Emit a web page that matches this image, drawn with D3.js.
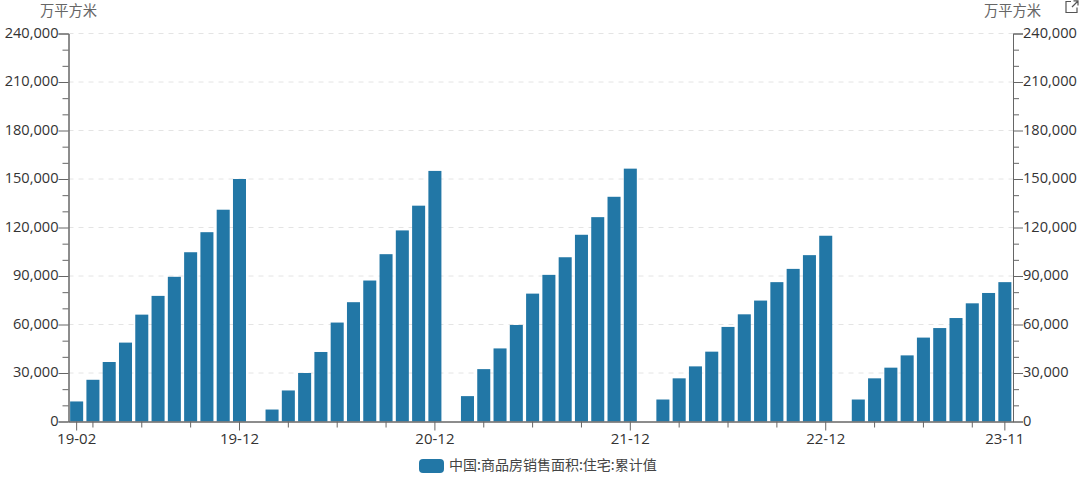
<!DOCTYPE html>
<html>
<head>
<meta charset="utf-8">
<script src="https://cdn.jsdelivr.net/npm/d3@7/dist/d3.min.js"></script>
<style>
  html, body { margin: 0; padding: 0; background: #fff; }
  svg { display: block; }
  text { font-family: "Open Sans", "Noto Sans CJK SC", sans-serif; }
  .cjk { font-family: "Noto Sans CJK SC", sans-serif; }
</style>
</head>
<body>
<div id="chart"></div>
<script>
// data
var months = [
  "19-02","19-03","19-04","19-05","19-06","19-07","19-08","19-09","19-10","19-11","19-12",
  "20-01","20-02","20-03","20-04","20-05","20-06","20-07","20-08","20-09","20-10","20-11","20-12",
  "21-01","21-02","21-03","21-04","21-05","21-06","21-07","21-08","21-09","21-10","21-11","21-12",
  "22-01","22-02","22-03","22-04","22-05","22-06","22-07","22-08","22-09","22-10","22-11","22-12",
  "23-01","23-02","23-03","23-04","23-05","23-06","23-07","23-08","23-09","23-10","23-11"
];
var salesArea = [
  12400,25800,36800,48800,66100,77700,89500,104700,117100,131000,150000,
  null,7400,19200,30000,43000,61200,73800,87200,103500,118200,133500,155000,
  null,15700,32400,45200,59700,79100,90700,101600,115500,126400,139000,156400,
  null,13600,26700,34100,43200,58500,66300,74800,86200,94400,102900,114900,
  null,13600,26700,33300,40900,51900,57800,64000,73100,79500,86200
];
var xLabels = ["19-02","19-12","20-12","21-12","22-12","23-11"];
var xMinorTicks = ["19-03","19-06","19-09","20-03","20-06","20-09","21-03","21-06","21-09",
                   "22-03","22-06","22-09","23-03","23-06","23-09"];
var yTicks = [0,30000,60000,90000,120000,150000,180000,210000,240000];
var yMinorTicks = d3.range(10000, 240000, 10000).filter(d => d % 30000 != 0);
var unitLabel = "万平方米";
var seriesName = "中国:商品房销售面积:住宅:累计值";

var width = 1080, height = 480;
var margin = {top: 33.5, right: 67, bottom: 58.5, left: 68.5};
var axisColor = "#666", labelColor = "#333", barColor = "#2277a6";

var svg = d3.select("#chart").append("svg")
    .attr("width", width)
    .attr("height", height);

var x = d3.scaleBand()
    .domain(months)
    .range([margin.left, width - margin.right])
    .paddingInner(0.2)
    .paddingOuter(0.1);

var y = d3.scaleLinear()
    .domain([0, 240000])
    .range([height - margin.bottom, margin.top]);

// grid
svg.append("g").selectAll("line")
    .data(yTicks.slice(1))
    .enter().append("line")
    .attr("x1", margin.left)
    .attr("x2", width - margin.right)
    .attr("y1", d => y(d))
    .attr("y2", d => y(d))
    .attr("stroke", "#e4e4e4")
    .attr("stroke-dasharray", "5,5");

// bars
svg.append("g").selectAll("rect")
    .data(months.map((m, i) => ({month: m, value: salesArea[i]})).filter(d => d.value != null))
    .enter().append("rect")
    .attr("x", d => x(d.month))
    .attr("y", d => y(d.value))
    .attr("width", x.bandwidth())
    .attr("height", d => y(0) - y(d.value))
    .attr("fill", barColor);

function styleAxis(g, size) {
    g.selectAll("path, line").attr("stroke", axisColor);
    g.selectAll("text").attr("fill", labelColor).style("font-size", size + "px");
}

// y axes, major and minor ticks
var fmt = d3.format(",");
svg.append("g")
    .attr("transform", `translate(${margin.left},0)`)
    .call(d3.axisLeft(y).tickValues(yTicks).tickFormat(fmt).tickSize(10).tickPadding(0))
    .call(styleAxis, 14.6)
    .selectAll("text").attr("dy", "0.26em");
svg.append("g")
    .attr("transform", `translate(${margin.left},0)`)
    .call(d3.axisLeft(y).tickValues(yMinorTicks).tickFormat("").tickSize(6).tickSizeOuter(0))
    .call(styleAxis, 14.6);
svg.append("g")
    .attr("transform", `translate(${width - margin.right},0)`)
    .call(d3.axisRight(y).tickValues(yTicks).tickFormat(fmt).tickSize(10).tickPadding(0))
    .call(styleAxis, 14.6)
    .selectAll("text").attr("dy", "0.26em");
svg.append("g")
    .attr("transform", `translate(${width - margin.right},0)`)
    .call(d3.axisRight(y).tickValues(yMinorTicks).tickFormat("").tickSize(6).tickSizeOuter(0))
    .call(styleAxis, 14.6);

// x axis
svg.append("g")
    .attr("transform", `translate(0,${height - margin.bottom})`)
    .call(d3.axisBottom(x).tickValues(xLabels).tickSize(9).tickSizeOuter(0).tickPadding(3))
    .call(styleAxis, 15);
svg.append("g")
    .attr("transform", `translate(0,${height - margin.bottom})`)
    .call(d3.axisBottom(x).tickValues(xMinorTicks).tickFormat("").tickSize(6).tickSizeOuter(0))
    .call(styleAxis, 15);

// units
[68.5, 1012.5].forEach(cx => {
    svg.append("text")
        .attr("class", "cjk")
        .attr("x", cx)
        .attr("y", 16)
        .attr("text-anchor", "middle")
        .attr("fill", "#666")
        .style("font-size", "14.3px")
        .text(unitLabel);
});

// legend
svg.append("rect")
    .attr("x", 419)
    .attr("y", 459)
    .attr("width", 25)
    .attr("height", 14)
    .attr("rx", 4)
    .attr("fill", barColor);
svg.append("text")
    .attr("class", "cjk")
    .attr("x", 449)
    .attr("y", 470)
    .attr("fill", "#444")
    .style("font-size", "14px")
    .text(seriesName);

// export icon, top right
svg.append("path")
    .attr("d", "M1071 1.5H1066V12.5H1077V7.5M1072 7L1077.5 1.5M1073.5 0.8H1078V5.5")
    .attr("fill", "none")
    .attr("stroke", "#555")
    .attr("stroke-width", 1.2);
</script>
</body>
</html>
